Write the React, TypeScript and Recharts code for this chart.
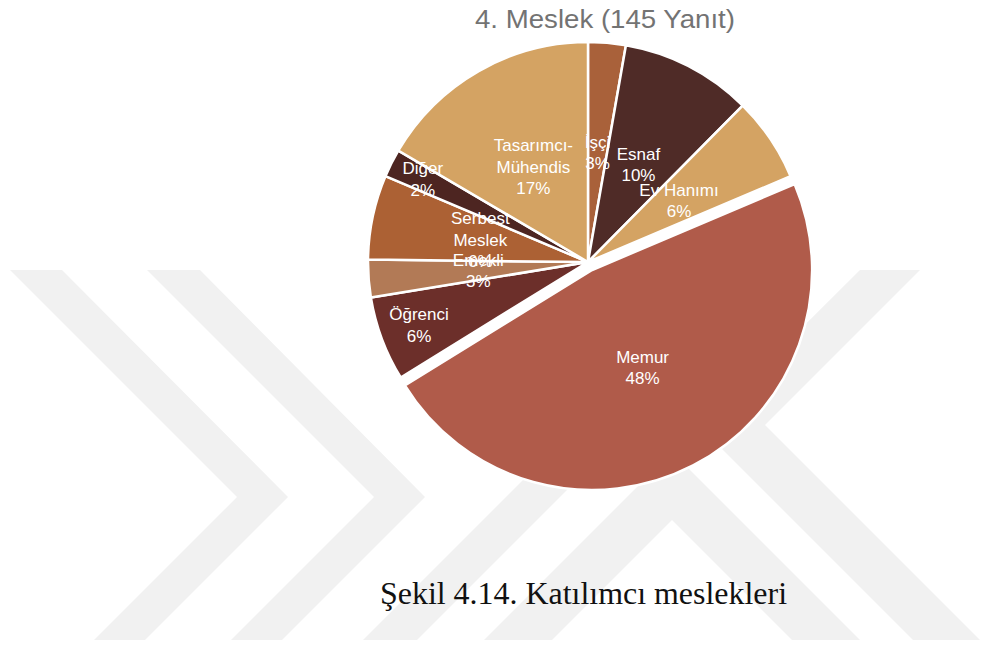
import React from "react";
import { PieChart, Pie, Cell } from "recharts";

// ---- data ----
const categories = [
  "İşçi",
  "Esnaf",
  "Ev Hanımı",
  "Memur",
  "Öğrenci",
  "Emekli",
  "Serbest Meslek",
  "Diğer",
  "Tasarımcı-Mühendis",
];
const counts = [4, 14, 9, 69, 9, 4, 9, 3, 24];
const labelLines = [
  ["İşçi"],
  ["Esnaf"],
  ["Ev Hanımı"],
  ["Memur"],
  ["Öğrenci"],
  ["Emekli"],
  ["Serbest", "Meslek"],
  ["Diğer"],
  ["Tasarımcı-", "Mühendis"],
];
const titleText = "4. Meslek (145 Yanıt)";
const captionText = "Şekil 4.14. Katılımcı meslekleri";
const explodedCategory = "Memur";

// ---- styles ----
const COLORS: Record<string, string> = {
  "İşçi": "#A9613A",
  "Esnaf": "#4F2B27",
  "Ev Hanımı": "#D4A363",
  "Memur": "#B05B4A",
  "Öğrenci": "#6C2F2A",
  "Emekli": "#B27A56",
  "Serbest Meslek": "#AC6134",
  "Diğer": "#4D2521",
  "Tasarımcı-Mühendis": "#D4A363",
};
const LABEL_RADIUS: Record<string, number> = { "Öğrenci": 0.82, "Diğer": 0.84 };

const W = 985;
const H = 646;
const CX = 588;
const CY = 262;
const R = 220;
const EXPLODE = 9;

const data = categories.map((name, i) => ({ name, value: counts[i], lines: labelLines[i] }));

// exploded slice offset computed from data
const total = counts.reduce((a, b) => a + b, 0);
const exIdx = categories.indexOf(explodedCategory);
const before = counts.slice(0, exIdx).reduce((a, b) => a + b, 0);
const midFrac = (before + counts[exIdx] / 2) / total;
const midTheta = midFrac * 2 * Math.PI;
const EX_DX = EXPLODE * Math.sin(midTheta);
const EX_DY = -EXPLODE * Math.cos(midTheta);

const FONT = "'Liberation Sans', Arial, Helvetica, sans-serif";

const makeLabel = (show: (n: string) => boolean) => (props: any) => {
  const { cx, cy, midAngle, outerRadius, percent } = props;
  const nm: string = props?.payload?.name ?? props.name;
  if (!show(nm)) return null;
  const entry = data.find((d) => d.name === nm);
  const ratio = LABEL_RADIUS[nm] ?? 0.5;
  const r = outerRadius * ratio;
  const rad = (-midAngle * Math.PI) / 180;
  const x = cx + r * Math.cos(rad);
  const y = cy + r * Math.sin(rad);
  const lines = [...(entry ? entry.lines : [nm]), `${Math.round(percent * 100)}%`];
  const lh = 21.5;
  const y0 = y - ((lines.length - 1) * lh) / 2;
  return (
    <text
      x={x}
      y={y0}
      textAnchor="middle"
      dominantBaseline="central"
      fill="#ffffff"
      fontSize={17}
      fontFamily={FONT}
    >
      {lines.map((l, i) => (
        <tspan key={i} x={x} y={y0 + i * lh} dominantBaseline="central">
          {l}
        </tspan>
      ))}
    </text>
  );
};

const WM = "#f1f1f1";

export default function App() {
  return (
    <div
      style={{
        position: "absolute",
        left: 0,
        top: 0,
        width: W,
        height: H,
        background: "#ffffff",
        overflow: "hidden",
      }}
    >
      <svg width={W} height={H} style={{ position: "absolute", left: 0, top: 0 }}>
        {/* background watermark */}
        <polygon fill={WM} points="10,270 62,270 288,497 145,640 94,640 237,497" />
        <polygon fill={WM} points="147,270 200,270 425,497 282,640 231,640 374,497" />
        <polygon fill={WM} points="860,270 701,428 913,640 980,640 765,425 920,270" />
        <polygon fill={WM} points="672,452 860,640 792,640 672,520 552,640 484,640" />
        <polygon fill={WM} points="363,640 417,640 637,420 583,420" />
        <text
          x={605}
          y={28}
          textAnchor="middle"
          fontSize={25}
          fontFamily={FONT}
          fill="#737373"
          textLength={260}
          lengthAdjust="spacingAndGlyphs"
        >
          {titleText}
        </text>
        <text
          x={380}
          y={604}
          fontSize={32}
          fontFamily="'Liberation Serif', 'Times New Roman', serif"
          fill="#111111"
          textLength={407}
          lengthAdjust="spacingAndGlyphs"
        >
          {captionText}
        </text>
      </svg>
      <div style={{ position: "absolute", left: 0, top: 0 }}>
        <PieChart width={W} height={H} margin={{ top: 0, right: 0, bottom: 0, left: 0 }}>
          <Pie
            data={data}
            dataKey="value"
            nameKey="name"
            cx={CX}
            cy={CY}
            outerRadius={R}
            startAngle={90}
            endAngle={-270}
            isAnimationActive={false}
            labelLine={false}
            label={makeLabel((n) => n !== explodedCategory)}
            stroke="#ffffff"
            strokeWidth={2.5}
          >
            {data.map((d) => (
              <Cell
                key={d.name}
                fill={d.name === explodedCategory ? "none" : COLORS[d.name]}
                stroke={d.name === explodedCategory ? "none" : "#ffffff"}
              />
            ))}
          </Pie>
          <Pie
            data={data}
            dataKey="value"
            nameKey="name"
            cx={CX + EX_DX}
            cy={CY + EX_DY}
            outerRadius={R}
            startAngle={90}
            endAngle={-270}
            isAnimationActive={false}
            labelLine={false}
            label={makeLabel((n) => n === explodedCategory)}
            stroke="#ffffff"
            strokeWidth={2.5}
          >
            {data.map((d) => (
              <Cell
                key={d.name}
                fill={d.name === explodedCategory ? COLORS[d.name] : "none"}
                stroke={d.name === explodedCategory ? "#ffffff" : "none"}
              />
            ))}
          </Pie>
        </PieChart>
      </div>
    </div>
  );
}
